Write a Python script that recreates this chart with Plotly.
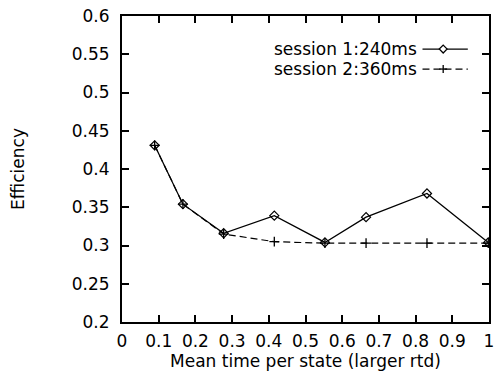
import plotly.graph_objects as go

# Data
x_s1 = [0.089, 0.166, 0.277, 0.415, 0.553, 0.665, 0.831, 0.998]
y_s1 = [0.431, 0.354, 0.316, 0.339, 0.304, 0.337, 0.368, 0.304]
x_s2 = [0.089, 0.166, 0.277, 0.415, 0.553, 0.665, 0.831, 0.998]
y_s2 = [0.431, 0.354, 0.315, 0.305, 0.303, 0.303, 0.303, 0.303]
names = ["session 1:240ms", "session 2:360ms"]
x_ticks = [0, 0.1, 0.2, 0.3, 0.4, 0.5, 0.6, 0.7, 0.8, 0.9, 1]
x_ticklabels = ["0", "0.1", "0.2", "0.3", "0.4", "0.5", "0.6", "0.7", "0.8", "0.9", "1"]
y_ticks = [0.2, 0.25, 0.3, 0.35, 0.4, 0.45, 0.5, 0.55, 0.6]
y_ticklabels = ["0.2", "0.25", "0.3", "0.35", "0.4", "0.45", "0.5", "0.55", "0.6"]

W, H = 500, 376
L, R, T, B = 122, 5.5, 16, 54.3
FONT = "DejaVu Sans, Liberation Sans, sans-serif"

fig = go.Figure()
fig.add_trace(go.Scatter(
    x=x_s2, y=y_s2, mode="lines+markers", name=names[1],
    line=dict(color="black", width=1.2, dash="7px,4px"),
    marker=dict(symbol="cross-thin", size=7, line=dict(color="black", width=1.3)),
    showlegend=False))
fig.add_trace(go.Scatter(
    x=x_s1, y=y_s1, mode="lines+markers", name=names[0],
    line=dict(color="black", width=1.3),
    marker=dict(symbol="diamond-open", size=7, color="black", line=dict(color="black", width=1.2)),
    showlegend=False))

pw = W - L - R
ph = H - T - B
def px(xp):
    return (xp - L) / pw
def py(yp):
    return (H - B - yp) / ph

shapes = []
annotations = []
rows = [49, 69]
for i, nm in enumerate(names):
    yy = rows[i]
    annotations.append(dict(text=nm, xref="paper", yref="paper", x=px(423), y=py(yy),
                            xanchor="right", yanchor="middle", showarrow=False,
                            font=dict(family=FONT, size=17, color="black")))
    if i == 0:
        shapes.append(dict(type="line", xref="paper", yref="paper", x0=px(427), x1=px(473),
                           y0=py(yy), y1=py(yy), line=dict(color="black", width=1.3)))
        d = 4
        path = "M {} {} L {} {} L {} {} L {} {} Z".format(
            px(448 - d), py(yy), px(448), py(yy - d), px(448 + d), py(yy), px(448), py(yy + d))
        shapes.append(dict(type="path", xref="paper", yref="paper", path=path,
                           fillcolor="white", line=dict(color="black", width=1.2)))
    else:
        shapes.append(dict(type="line", xref="paper", yref="paper", x0=px(427), x1=px(473),
                           y0=py(yy), y1=py(yy), line=dict(color="black", width=1.2, dash="7px,4px")))
        shapes.append(dict(type="line", xref="paper", yref="paper", x0=px(444), x1=px(452),
                           y0=py(yy), y1=py(yy), line=dict(color="black", width=1.3)))
        shapes.append(dict(type="line", xref="paper", yref="paper", x0=px(448), x1=px(448),
                           y0=py(yy - 4), y1=py(yy + 4), line=dict(color="black", width=1.3)))

axis_common = dict(showgrid=False, zeroline=False, showline=True, linecolor="black", linewidth=2,
                   mirror="allticks", ticks="inside", ticklen=7, tickwidth=1.5, tickcolor="black",
                   tickfont=dict(family=FONT, size=17, color="black"))

fig.update_layout(
    width=W, height=H,
    margin=dict(l=L, r=R, t=T, b=B, pad=0),
    paper_bgcolor="white", plot_bgcolor="white",
    font=dict(family=FONT, size=17, color="black"),
    xaxis=dict(range=[0, 1], tickvals=x_ticks, ticktext=x_ticklabels, ticklabelstandoff=3,
               title=dict(text="Mean time per state (larger rtd)", standoff=0,
                          font=dict(family=FONT, size=17)),
               **axis_common),
    yaxis=dict(range=[0.2, 0.6], tickvals=y_ticks, ticktext=y_ticklabels, ticklabelstandoff=7,
               title=dict(text="Efficiency", standoff=43, font=dict(family=FONT, size=17)),
               **axis_common),
    shapes=shapes, annotations=annotations,
)

fig.write_html("out.html")
